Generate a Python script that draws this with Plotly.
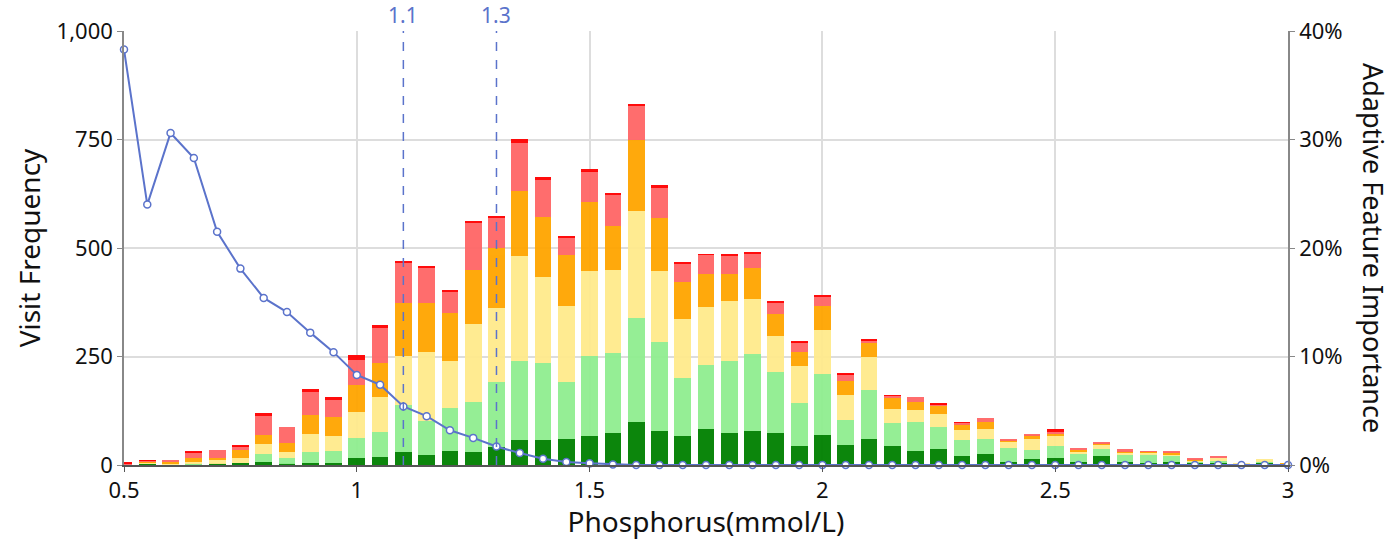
import plotly.graph_objects as go

# Phosphorus bins (mmol/L)
phosphorus = [round(0.5 + 0.05 * i, 2) for i in range(51)]

# Visit counts per bin, split into five risk bands plus a critical cap
band_dark_green = [0, 3, 0, 2, 3, 5, 8, 3, 5, 5, 15, 18, 30, 24, 33, 30, 42, 57, 57, 61,
                   67, 73, 98, 79, 67, 82, 73, 79, 73, 43, 70, 45, 61, 44, 32, 38, 20, 26, 8, 14,
                   17, 6, 20, 8, 5, 6, 5, 4, 0, 5, 0]
band_light_green = [0, 1, 0, 1, 0, 0, 18, 12, 24, 27, 48, 57, 108, 78, 98, 116, 149, 183, 177, 131,
                    185, 185, 240, 204, 134, 149, 167, 176, 142, 100, 140, 58, 112, 52, 66, 49, 37, 33, 31, 21,
                    27, 19, 18, 15, 20, 14, 3, 5, 1, 3, 0]
band_yellow = [0, 2, 3, 3, 9, 12, 22, 15, 42, 34, 58, 82, 114, 159, 109, 179, 170, 241, 200, 174,
               194, 192, 248, 164, 136, 134, 137, 127, 83, 85, 101, 58, 76, 33, 28, 30, 24, 25, 14, 24,
               22, 7, 9, 5, 4, 5, 3, 8, 4, 6, 0]
band_orange = [0, 1, 3, 11, 4, 18, 21, 21, 45, 45, 63, 77, 122, 113, 110, 125, 140, 151, 137, 118,
               159, 101, 164, 122, 85, 76, 64, 73, 51, 33, 55, 33, 31, 25, 19, 19, 13, 15, 4, 9,
               6, 3, 3, 3, 1, 4, 2, 0, 0, 0, 4]
band_salmon = [4, 3, 5, 12, 19, 8, 44, 36, 53, 38, 58, 81, 91, 79, 48, 107, 67, 110, 85, 39,
               72, 72, 78, 70, 40, 43, 40, 32, 25, 22, 22, 15, 8, 6, 12, 4, 3, 10, 4, 4,
               5, 4, 3, 5, 2, 4, 2, 3, 0, 0, 0]
band_red = [1, 1, 0, 4, 0, 4, 6, 0, 5, 8, 11, 7, 6, 6, 6, 6, 5, 9, 7, 5,
            4, 4, 4, 6, 6, 1, 6, 2, 4, 2, 2, 2, 2, 1, 0, 2, 2, 0, 0, 0,
            5, 0, 0, 0, 0, 0, 0, 0, 0, 0, 0]

# Feature importance per bin (fraction)
importance = [0.383, 0.240, 0.306, 0.283, 0.215, 0.181, 0.154, 0.141, 0.122, 0.104,
              0.083, 0.074, 0.054, 0.045, 0.032, 0.025, 0.017, 0.011, 0.0058, 0.0028,
              0.0015, 0.0005] + [0.0] * 29

# Reference cut-offs
cutoffs = [1.1, 1.3]

bands = [
    (band_dark_green, "#008000"),
    (band_light_green, "#90EE90"),
    (band_yellow, "#FFEA8C"),
    (band_orange, "#FFA500"),
    (band_salmon, "#FF6666"),
    (band_red, "#FF0000"),
]

BLUE = "#5B73CB"
FONT = "Noto Sans"
TITLE_FONT = dict(family=FONT, size=28, color="#111")

fig = go.Figure()
for values, color in bands:
    fig.add_trace(go.Bar(
        x=phosphorus, y=values, width=0.036,
        marker=dict(color=color, line=dict(width=0)),
        opacity=0.95, showlegend=False,
    ))

fig.add_trace(go.Scatter(
    x=phosphorus, y=importance, yaxis="y2", mode="lines+markers",
    line=dict(color=BLUE, width=2),
    marker=dict(symbol="circle", size=7, color="white", line=dict(color=BLUE, width=1.5)),
    showlegend=False, cliponaxis=False,
))

for c in cutoffs:
    fig.add_shape(type="line", x0=c, x1=c, xref="x", y0=0, y1=1, yref="paper",
                  line=dict(color=BLUE, width=1.5, dash="dash"))
    fig.add_annotation(x=c, y=1, xref="x", yref="paper", yanchor="bottom", xanchor="center",
                       text=str(c), showarrow=False, yshift=0,
                       font=dict(family=FONT, size=21, color=BLUE))

fig.add_annotation(x=1, y=0.5, xref="paper", yref="paper", xanchor="center", yanchor="middle",
                   xshift=86, text="Adaptive Feature Importance", textangle=90, showarrow=False,
                   font=dict(family=FONT, size=27, color="#111"))

axis_font = dict(family=FONT, size=22, color="#111")

fig.update_layout(
    width=1396, height=540,
    margin=dict(l=124, r=108, t=31, b=75),
    paper_bgcolor="white", plot_bgcolor="white",
    barmode="stack", bargap=0.28,
    font=dict(family=FONT, color="#111"),
    xaxis=dict(
        range=[0.5, 3.0], tickvals=[0.5, 1, 1.5, 2, 2.5, 3], ticktext=["0.5", "1", "1.5", "2", "2.5", "3"],
        showgrid=True, gridcolor="#DDDDDD", gridwidth=2,
        showline=True, linecolor="#555", linewidth=1.5,
        ticks="outside", ticklen=5, tickcolor="#555",
        tickfont=axis_font, zeroline=False,
        title=dict(text="Phosphorus(mmol/L)", font=TITLE_FONT, standoff=2),
    ),
    yaxis=dict(
        range=[0, 1000], tickvals=[0, 250, 500, 750, 1000], tickformat=",",
        showgrid=True, gridcolor="#DDDDDD", gridwidth=2,
        showline=True, linecolor="#888", linewidth=1.5,
        ticks="outside", ticklen=5, tickcolor="#888",
        tickfont=axis_font, zeroline=False,
        title=dict(text="Visit Frequency", font=TITLE_FONT, standoff=8),
    ),
    yaxis2=dict(
        range=[0, 0.4], tickvals=[0, 0.1, 0.2, 0.3, 0.4], tickformat=".0%",
        overlaying="y", side="right", showgrid=False,
        showline=True, linecolor="#888", linewidth=1.5,
        ticks="outside", ticklen=5, tickcolor="#888",
        tickfont=axis_font, zeroline=False,
    ),
)

fig.write_html("out.html")
